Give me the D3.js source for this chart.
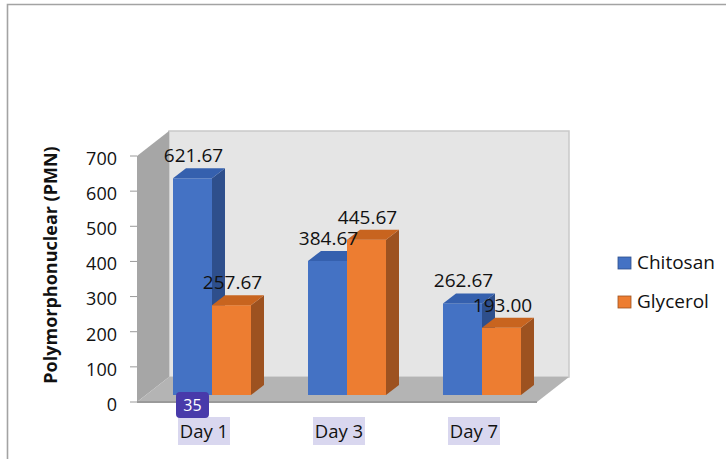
<!DOCTYPE html>
<html><head><meta charset="utf-8">
<script src="https://cdn.jsdelivr.net/npm/d3@7"></script>
<style>html,body{margin:0;padding:0;background:#fff;}svg{display:block;font-family:"Open Sans",sans-serif;}</style>
</head><body>
<svg id="c" width="726" height="459"></svg>
<script>
const days = ["Day 1", "Day 3", "Day 7"];
const seriesNames = ["Chitosan", "Glycerol"];
const chitosan = [621.67, 384.67, 262.67];
const glycerol = [257.67, 445.67, 193.00];
const yTicks = [0, 100, 200, 300, 400, 500, 600, 700];
const colors = {
  Chitosan: {front: "#4472c4", top: "#3560ae", side: "#2e4f8c"},
  Glycerol: {front: "#ed7d31", top: "#c8641f", side: "#9d5220"}
};

const svg = d3.select("#c");
// outer border
svg.append("path").attr("d", "M7.5,459 V4.5 H726").attr("fill", "none").attr("stroke", "#a3a3a3").attr("stroke-width", 1.6);

// 3D frame
const wx0 = 137, wx1 = 537, dX = 32, dY = 25;
const y = d3.scaleLinear().domain([0, 700]).range([402, 156]);
const yBar = d3.scaleLinear().domain([0, 700]).range([395, 151]);

// back wall
svg.append("rect").attr("x", wx0 + dX).attr("y", y(700) - dY).attr("width", wx1 - wx0).attr("height", y(0) - y(700))
  .attr("fill", "#e5e5e5").attr("stroke", "#c9c9c9").attr("stroke-width", 1.5);
// left wall
svg.append("polygon").attr("points", [[wx0, y(700)], [wx0 + dX, y(700) - dY], [wx0 + dX, y(0) - dY], [wx0, y(0)]].join(" "))
  .attr("fill", "#a6a6a6");
// floor
svg.append("polygon").attr("points", [[wx0, y(0)], [wx0 + dX, y(0) - dY], [wx1 + dX, y(0) - dY], [wx1, y(0)]].join(" "))
  .attr("fill", "#b4b4b4");
svg.append("line").attr("x1", wx0).attr("x2", wx1).attr("y1", y(0)).attr("y2", y(0)).attr("stroke", "#9a9a9a").attr("stroke-width", 2);

// y axis ticks and labels
const tg = svg.append("g");
tg.selectAll("line").data(yTicks).join("line")
  .attr("x1", 130).attr("x2", wx0).attr("y1", d => y(d)).attr("y2", d => y(d))
  .attr("stroke", "#9a9a9a").attr("stroke-width", 1);
tg.selectAll("text").data(yTicks).join("text")
  .attr("x", 117).attr("y", d => y(d) + 2.5).attr("dy", "0.35em").attr("text-anchor", "end")
  .attr("font-size", 18).attr("fill", "#111").text(d => d);

// y title
svg.append("text").attr("transform", "translate(57,265) rotate(-90)").attr("text-anchor", "middle")
  .attr("font-size", 18).attr("font-weight", "bold").attr("fill", "#111").text("Polymorphonuclear (PMN)");

// bars
const x = d3.scaleBand().domain(days).range([173, 521]).paddingInner(0.4222).paddingOuter(0);
const xs = d3.scaleBand().domain(seriesNames).range([0, x.bandwidth()]);
const bdx = 13, bdy = 10;
const data = [];
days.forEach((d, i) => {
  data.push({day: d, s: "Chitosan", v: chitosan[i]});
  data.push({day: d, s: "Glycerol", v: glycerol[i]});
});
const bars = svg.append("g").selectAll("g").data(data).join("g");
bars.each(function(d) {
  const g = d3.select(this);
  const x0 = x(d.day) + xs(d.s), w = xs.bandwidth();
  const yt = yBar(d.v), yb = yBar(0);
  const c = colors[d.s];
  g.append("polygon").attr("points", [[x0 + w, yt], [x0 + w + bdx, yt - bdy], [x0 + w + bdx, yb - bdy], [x0 + w, yb]].join(" ")).attr("fill", c.side);
  g.append("rect").attr("x", x0).attr("y", yt).attr("width", w).attr("height", yb - yt).attr("fill", c.front);
  g.append("polygon").attr("points", [[x0, yt], [x0 + w, yt], [x0 + w + bdx, yt - bdy], [x0 + bdx, yt - bdy]].join(" ")).attr("fill", c.top);
});
// value labels
svg.append("g").selectAll("text").data(data).join("text")
  .attr("x", d => x(d.day) + xs(d.s) + xs.bandwidth() / 2 + 1)
  .attr("y", d => yBar(d.v) - 16)
  .attr("text-anchor", "middle").attr("font-size", 19).attr("fill", "#111")
  .text(d => d.v.toFixed(2));

// x labels with highlight
const xl = svg.append("g").selectAll("g").data(days).join("g")
  .attr("transform", d => `translate(${x(d) + 31},0)`);
xl.append("rect").attr("x", -26).attr("y", 417).attr("width", 52).attr("height", 28).attr("fill", "#d9d7ef");
xl.append("text").attr("x", 0).attr("y", 438).attr("text-anchor", "middle").attr("font-size", 18.5).attr("fill", "#111").text(d => d);

// badge "35"
svg.append("rect").attr("x", 176).attr("y", 392).attr("width", 33).attr("height", 26).attr("rx", 4).attr("fill", "#483aaa");
svg.append("text").attr("x", 192.5).attr("y", 405).attr("dy", "0.36em").attr("text-anchor", "middle")
  .attr("font-size", 16).attr("fill", "#fff").text("35");

// legend
const lg = svg.append("g").selectAll("g").data(seriesNames).join("g")
  .attr("transform", (d, i) => `translate(618,${257 + i * 39})`);
lg.append("rect").attr("width", 13).attr("height", 12).attr("fill", d => colors[d].front)
  .attr("stroke", d => colors[d].side).attr("stroke-width", 0.8);
lg.append("text").attr("x", 19).attr("y", 11.5).attr("font-size", 19).attr("fill", "#111").text(d => d);
</script>
</body></html>
